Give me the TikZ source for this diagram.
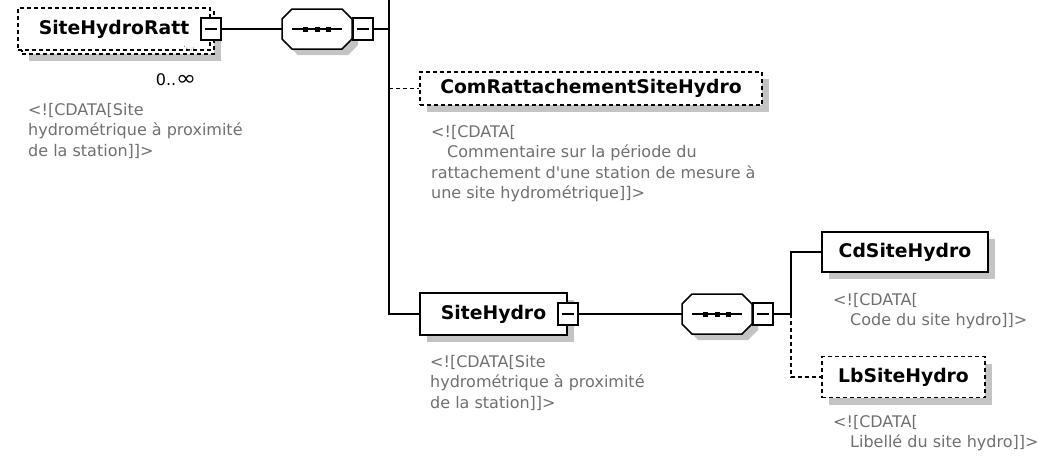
\documentclass[tikz,border=0pt]{standalone}
\usepackage{fontspec}
\setmainfont{DejaVu Sans}
\usetikzlibrary{shadows}

\definecolor{notegray}{RGB}{112,112,112}
\definecolor{shadegray}{RGB}{196,196,196}
\newcommand{\squote}{\XeTeXglyph\numexpr\XeTeXcharglyph"27\relax}

\tikzset{
  wire/.style={line width=1.5pt},
  optional/.style={dash pattern=on 4pt off 3pt},
  box/.style={draw, wire, fill=white, inner sep=0pt, font=\fontsize{18.8}{22}\selectfont\bfseries},
  shade/.style={drop shadow={shadow xshift=7pt, shadow yshift=-7pt, fill=shadegray, opacity=1}},
  toggle/.style={draw, wire, fill=white, minimum width=20pt, minimum height=22pt, inner sep=0pt,
    path picture={\draw[wire] ([xshift=4pt]path picture bounding box.west) -- ([xshift=-4pt]path picture bounding box.east);}},
  note/.style={anchor=north west, inner sep=0pt, align=left, text=notegray, font=\fontsize{16}{20.5}\selectfont},
}

\begin{document}
\begin{tikzpicture}[x=1pt, y=-1pt]
\useasboundingbox (0,0) rectangle (1039,456);

% root element, repeated 0..oo
\node[box, optional, shade, minimum width=192pt, minimum height=42pt] (rattback) at (118,33) {};
\node[box, optional, minimum width=192pt, minimum height=42pt] (ratt) at (114,29) {SiteHydroRatt};
\node[toggle] (rattt) at (ratt.east) {};
\draw[dotted, line width=1pt, black!45] (184,46) -- (190,51) -- (195,47);
\node[font=\fontsize{16}{20}\selectfont, inner sep=0pt] (rattocc) at (176,80) {0..\scalebox{1.5}[1.3]{∞}};
\node[note] (rattdoc) at (28,103) {<![CDATA[Site\\hydrométrique à proximité\\de la station]]>};

% sequence groups
\foreach \n/\cx/\cy in {seqa/317/29, seqb/717/314}{
  \begin{scope}[shift={(\cx,\cy)}]
    \fill[shadegray, shift={(6,6)}] (-25,-20) -- (25,-20) -- (35,-10) -- (35,10) -- (25,20) -- (-25,20) -- (-35,10) -- (-35,-10) -- cycle;
    \draw[wire, fill=white] (-25,-20) -- (25,-20) -- (35,-10) -- (35,10) -- (25,20) -- (-25,20) -- (-35,10) -- (-35,-10) -- cycle;
    \draw[wire] (-25,0) -- (25,0);
    \foreach \d in {-12,0,11}
      \fill (\d-2.5,-2.5) rectangle ++(5,5);
  \end{scope}
  \node[minimum width=70pt, minimum height=40pt, inner sep=0pt] (\n) at (\cx,\cy) {};
  \node[toggle, anchor=west] (\n t) at (\n.east) {};
}

% children of the first sequence
\coordinate (bus) at (389,0);
\node[box, optional, shade, minimum width=342pt, minimum height=33pt] (com) at (591,88.5) {ComRattachementSiteHydro};
\node[note] (comdoc) at (431,125) {<![CDATA[\\\hspace*{16pt}Commentaire sur la période du\\rattachement d\squote une station de mesure à\\une site hydrométrique]]>};
\node[box, shade, minimum width=147pt, minimum height=42pt] (sh) at (493.5,314) {SiteHydro};
\node[toggle] (sht) at (sh.east) {};
\node[note] (shdoc) at (430,355) {<![CDATA[Site\\hydrométrique à proximité\\de la station]]>};

% children of the second sequence
\coordinate (bustwo) at (791,314);
\node[box, shade, minimum width=166pt, minimum height=40pt] (cd) at (905,252) {CdSiteHydro};
\node[note] (cddoc) at (833,293) {<![CDATA[\\\hspace*{17pt}Code du site hydro]]>};
\node[box, optional, shade, minimum width=163pt, minimum height=41pt] (lb) at (903.5,377) {LbSiteHydro};
\node[note] (lbdoc) at (833,415) {<![CDATA[\\\hspace*{17pt}Libellé du site hydro]]>};

% connectors
\draw[wire] (rattt.east) -- (seqa.west);
\draw[wire] (seqat.east) -- (seqat.east -| bus);
\draw[wire] (bus) |- (sh.west);
\draw[wire, optional] (com.west -| bus) -- (com.west);
\draw[wire] (sht.east) -- (seqb.west);
\draw[wire] (seqbt.east) -- (bustwo);
\draw[wire] (bustwo) |- (cd.west);
\draw[wire, optional] (bustwo) |- (lb.west);
\end{tikzpicture}
\end{document}
